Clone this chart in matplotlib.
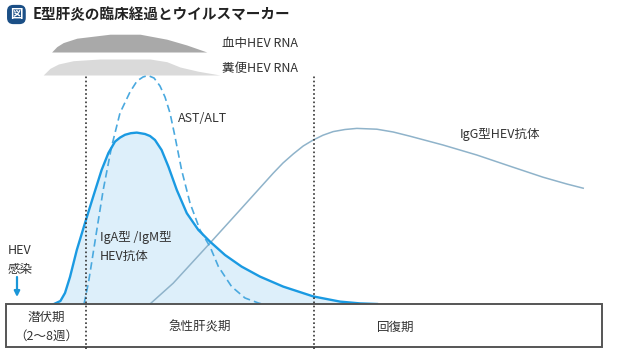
import matplotlib.pyplot as plt
from matplotlib.patches import Rectangle

plt.rcParams['font.family'] = ['Noto Sans CJK JP', 'DejaVu Sans']

# time axis (arbitrary units) and relative level for each marker
iga_t = [12.0, 13.6, 14.75, 16.0, 17.7, 19.75, 21.8, 23.9, 25.6, 27.25, 28.5, 29.75, 31.2,
         32.7, 34.75, 36.0, 37.25, 38.9, 40.6, 42.7, 45.2, 48.1, 51.0, 54.75, 58.9,
         63.5, 69.3, 76.8, 83.5, 88.5, 92.75]
iga_v = [0, 1.5, 5.5, 13.5, 27, 40.5, 53.7, 67, 75.5, 81.2, 83.2, 84.6, 85.4,
         85.7, 85.0, 84.0, 82, 77, 68.7, 57, 45.4, 37, 31.2, 24.5, 18.7,
         13.7, 8.7, 3.8, 1.2, 0.3, 0]

ast_t = [19.5, 20.6, 21.4, 22.7, 24.3, 26.4, 28.5, 31.0, 32.75, 34.25, 35.5, 37.0,
         38.5, 39.75, 41.0, 42.25, 43.9, 46.0, 48.5, 51.0, 53.1, 56.4, 59.75, 63.1, 64.0]
ast_v = [0, 10.5, 20.5, 37, 57, 78.7, 95.5, 106, 111.5, 113.5, 114.25, 113,
         109, 103.5, 95.5, 83.7, 67, 50.5, 37, 28.7, 18.7, 8.7, 3, 0.5, 0]

igg_t = [36.0, 41.8, 50.2, 58.5, 66.8, 69.25, 71.8, 74.3, 76.8, 79.25, 81.8, 84.75, 87.7,
         92.7, 96.8, 101.0, 109.25, 117.7, 126.0, 134.25, 140.2, 144.3]
igg_v = [0, 10.4, 28.7, 47, 65.4, 70.5, 75.0, 79.0, 82, 84.4, 86.2, 87.25, 87.8,
         87.4, 86.0, 83.9, 79.5, 74.5, 68.9, 63.4, 60, 57.9]

blood_t = [11.4, 12.7, 14.3, 17.7, 26.0, 33.5, 40.2, 45.2, 50.2]
blood_v = [126, 128.7, 130.7, 132.9, 134.9, 134.9, 132.4, 129.5, 126]
feces_t = [9.3, 11.0, 13.1, 16.8, 23.5, 36.0, 40.2, 43.5, 48.0, 53.5]
feces_v = [114.5, 117.85, 120, 121.65, 122.5, 122.5, 121.15, 118.5, 116.4, 114.5]

phase_edges = [0, 20, 77, 149]
phase_names = ['潜伏期\n（2〜8週）', '急性肝炎期', '回復期']

fig = plt.figure(figsize=(6.19, 3.55), dpi=100)
ax = fig.add_axes([0, 0, 1, 1])
ax.set_xlim(-1.5, 153.25)
ax.set_ylim(-25.5, 152)
ax.axis('off')

fs = 9
ink = '#333333'

# RNA bands
ax.fill_between(blood_t, blood_v[0], blood_v, color='#a9a9a9', lw=0)
ax.fill_between(feces_t, feces_v[0], feces_v, color='#dadada', lw=0)
ax.text(54, 130.5, '血中HEV RNA', fontsize=fs, va='center', color=ink)
ax.text(54, 118, '糞便HEV RNA', fontsize=fs, va='center', color=ink)

# antibody / enzyme curves
ax.fill_between(iga_t, 0, iga_v, color='#ddeffa', lw=0, zorder=1)
ax.plot(igg_t, igg_v, color='#8fb3ca', lw=1.1, zorder=2)
ax.plot(ast_t, ast_v, color='#4aa9df', lw=1.2, ls=(0, (4.5, 2.5)), zorder=3)
ax.plot(iga_t, iga_v, color='#1a9ae2', lw=1.7, zorder=4, solid_joinstyle='round')

ax.text(43, 93, 'AST/ALT', fontsize=fs, va='center', color=ink)
ax.text(113.5, 85, 'IgG型HEV抗体', fontsize=fs, va='center', color=ink)
ax.text(23.5, 33, 'IgA型 /IgM型', fontsize=fs, va='center', color=ink, zorder=5)
ax.text(23.5, 24, 'HEV抗体', fontsize=fs, va='center', color=ink, zorder=5)

# infection marker
ax.text(3.5, 27, 'HEV', fontsize=fs, ha='center', va='center', color=ink)
ax.text(3.5, 17, '感染', fontsize=fs, ha='center', va='center', color=ink)
ax.annotate('', xy=(2.75, 3.5), xytext=(2.75, 13.5),
            arrowprops=dict(arrowstyle='-|>', color='#1a96d8', lw=1.6,
                            mutation_scale=8, shrinkA=0, shrinkB=0))

# phase bar
ax.add_patch(Rectangle((phase_edges[0], -21.5), phase_edges[-1] - phase_edges[0], 21.5,
                       facecolor='white', edgecolor='#555555', lw=1.4, zorder=6))
for i, name in enumerate(phase_names):
    mid = (phase_edges[i] + phase_edges[i + 1]) / 2
    if i == 2:
        mid = 97.5
    ax.text(mid, -11.5, name, fontsize=fs, ha='center', va='center',
            color=ink, linespacing=1.6, zorder=7)
for x in phase_edges[1:-1]:
    ax.plot([x, x], [-22.5, 114.5], color=ink, lw=1.2, ls=(0, (1, 1.5)), zorder=8)

# title
ax.text(2.6, 144.75, '図', fontsize=9, ha='center', va='center', color='white',
        weight='bold',
        bbox=dict(boxstyle='round,pad=0.25,rounding_size=0.5', fc='#1b4f86', ec='none'))
ax.text(6.75, 145, 'E型肝炎の臨床経過とウイルスマーカー', fontsize=10.5, weight='bold',
        va='center', color='#222222')

fig.savefig('out.png', dpi=100)
